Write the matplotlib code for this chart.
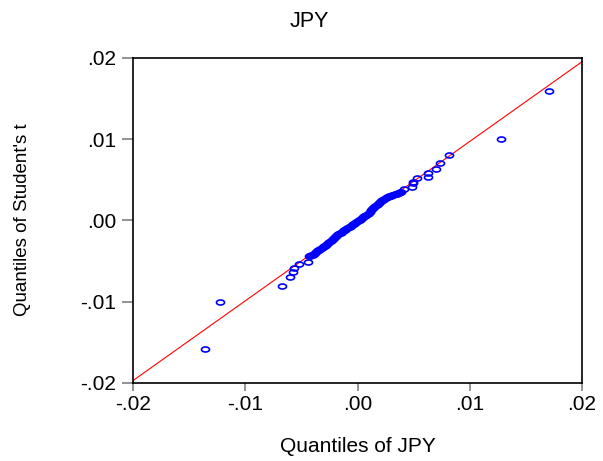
import numpy as np
import matplotlib
matplotlib.use("Agg")
import matplotlib.pyplot as plt
from matplotlib.path import Path

# Quantiles (JPY empirique vs Student's t)
q_jpy = [-0.01356, -0.01228, -0.00676, -0.00598, -0.00575, -0.00568, -0.00524, -0.00444, -0.00429,
         -0.0042, -0.0041, -0.0040, -0.0039, -0.0038, -0.0037, -0.0036, -0.0035, -0.0034, -0.0033,
         -0.0032, -0.0031, -0.0030, -0.0029, -0.0028, -0.0027, -0.0026, -0.0025, -0.0024, -0.0023,
         -0.0022, -0.0021, -0.0020, -0.0019, -0.0018, -0.0017, -0.0016, -0.0015, -0.0014, -0.0013,
         -0.0012, -0.0011, -0.0010, -0.0009, -0.0008, -0.0007, -0.0006, -0.0005, -0.0004, -0.0003,
         -0.0002, -0.0001, 0.0000, 0.0001, 0.0002, 0.0003, 0.0004, 0.0005, 0.0006, 0.0007,
         0.0008, 0.0009, 0.0010, 0.0011, 0.0012, 0.0013, 0.0014, 0.0015, 0.0016, 0.0017,
         0.0018, 0.0019, 0.0020, 0.0021, 0.0022, 0.0023, 0.0024, 0.0025, 0.0026, 0.0027,
         0.0028, 0.0029, 0.0030, 0.0031, 0.0032, 0.0033, 0.0034, 0.0035, 0.0036, 0.0037,
         0.0038, 0.0039, 0.00417, 0.00483, 0.00492, 0.00497, 0.00527, 0.00631, 0.00631, 0.0070,
         0.00738, 0.00815, 0.01279, 0.01706]
q_t = [-0.0158, -0.0100, -0.00806, -0.00699, -0.0063, -0.00581, -0.00539, -0.00507, -0.00437,
       -0.00440, -0.00430, -0.00420, -0.00411, -0.00401, -0.00391, -0.00381, -0.00366, -0.00357, -0.00347,
       -0.00337, -0.00327, -0.00317, -0.00308, -0.00298, -0.00288, -0.00278, -0.00268, -0.00248, -0.00239,
       -0.00229, -0.00219, -0.00209, -0.00189, -0.00180, -0.00170, -0.00160, -0.00150, -0.00140, -0.00131,
       -0.00121, -0.00111, -0.00101, -0.00096, -0.00086, -0.00077, -0.00067, -0.00057, -0.00047, -0.00037,
       -0.00028, -0.00018, -0.00008, 0.00002, 0.00012, 0.00021, 0.00031, 0.00041, 0.00051, 0.00061,
       0.00070, 0.00080, 0.00090, 0.00110, 0.00125, 0.00140, 0.00149, 0.00164, 0.00179, 0.00194,
       0.00209, 0.00218, 0.00228, 0.00238, 0.00248, 0.00258, 0.00267, 0.00277, 0.00287, 0.00292,
       0.00297, 0.00302, 0.00306, 0.00311, 0.00316, 0.00321, 0.00326, 0.00330, 0.00335, 0.00340,
       0.00345, 0.00355, 0.00384, 0.00416, 0.00478, 0.00458, 0.00520, 0.00589, 0.00540, 0.00634,
       0.00708, 0.00810, 0.01007, 0.01594]

# Droite de référence
line_x = [-0.02, 0.02]
line_y = [-0.01970, 0.01954]

ticks = [-0.02, -0.01, 0.00, 0.01, 0.02]
tick_labels = ['-.02', '-.01', '.00', '.01', '.02']

plt.rcParams['font.family'] = ['Liberation Sans', 'DejaVu Sans']

# Marqueur elliptique (les cercles d'EViews sont étirés)
theta = np.linspace(0, 2*np.pi, 41)
ellipse = Path(np.column_stack([np.cos(theta), 0.62*np.sin(theta)]), closed=True)

fig = plt.figure(figsize=(6.03, 4.61), dpi=100)
ax = fig.add_axes([0.2206, 0.1692, 0.7446, 0.7050])

ax.plot(line_x, line_y, color='red', lw=0.8, zorder=2)
ax.plot(q_jpy, q_t, linestyle='none', marker=ellipse, markersize=5.8,
        markerfacecolor='none', markeredgecolor='#0000ff', markeredgewidth=1.2, zorder=3)

ax.set_xlim(-0.02, 0.02)
ax.set_ylim(-0.02, 0.02)
ax.set_xticks(ticks)
ax.set_xticklabels(tick_labels)
ax.set_yticks(ticks)
ax.set_yticklabels(tick_labels)
ax.tick_params(axis='x', length=6, width=1.2, color='#808080', pad=3, labelsize=15)
ax.tick_params(axis='y', length=8, width=1.2, color='#808080', pad=4, labelsize=15)
for s in ax.spines.values():
    s.set_linewidth(1.2)
    s.set_color('black')

fig.text(0.513, 0.954, 'JPY', ha='center', va='center', fontsize=15.5)
fig.text(0.5927, 0.031, 'Quantiles of JPY', ha='center', va='center', fontsize=15)
fig.text(0.038, 0.523, "Quantiles of Student's t", ha='center', va='center',
         rotation=90, fontsize=13.5)

fig.savefig('out.png', dpi=100)
